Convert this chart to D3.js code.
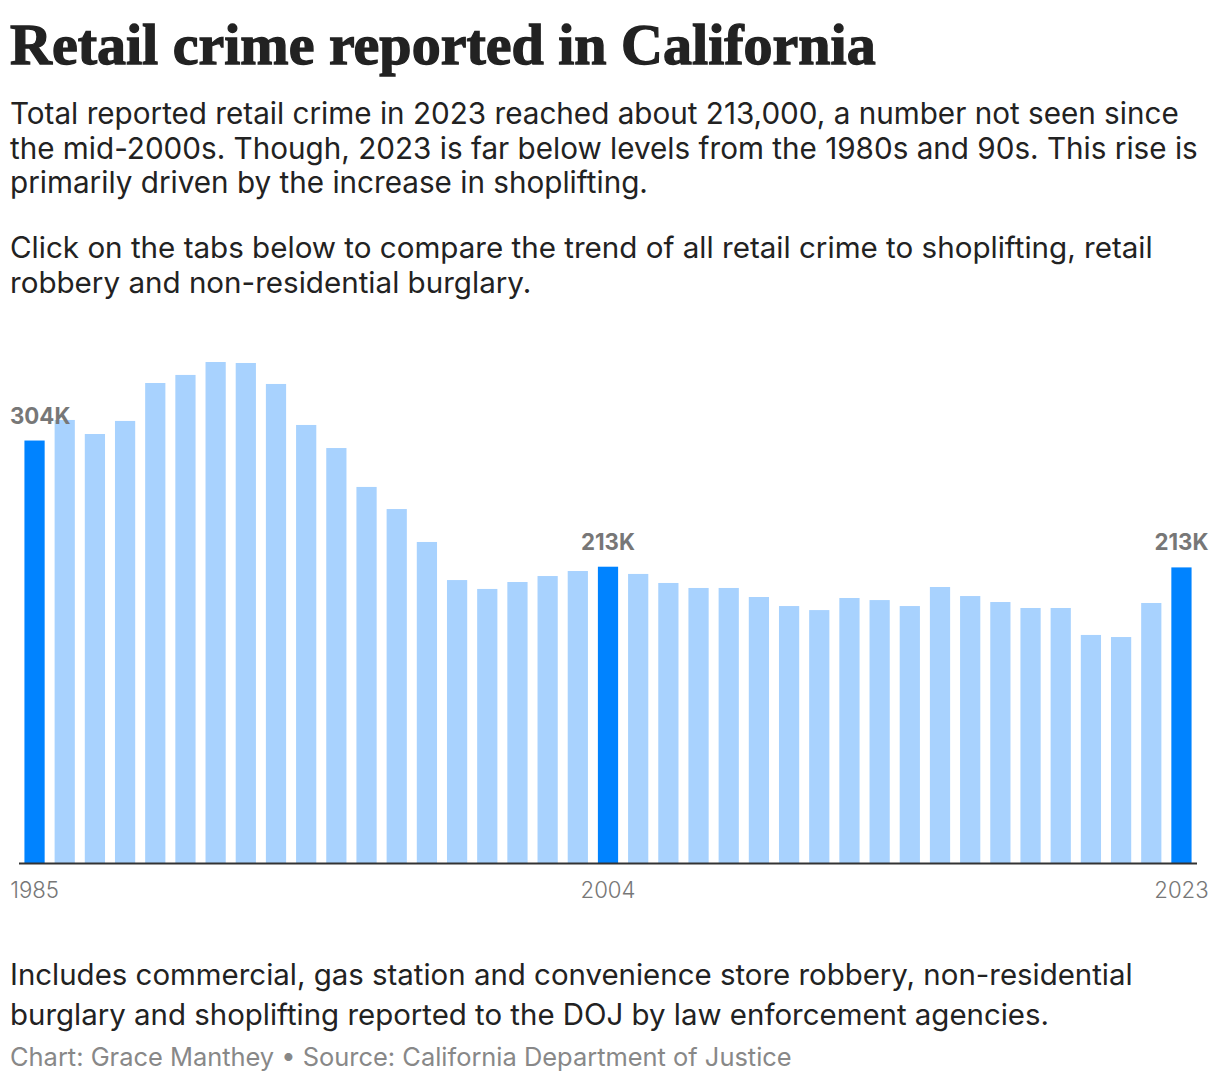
<!DOCTYPE html>
<html>
<head>
<meta charset="utf-8">
<script src="https://cdn.jsdelivr.net/npm/d3@7"></script>
<style>
  html, body { margin: 0; padding: 0; background: #fff; }
  svg { display: block; }
</style>
</head>
<body>
<svg id="chart" width="1220" height="1088"></svg>
<script>
// ---- data ----
const years = [1985,1986,1987,1988,1989,1990,1991,1992,1993,1994,1995,1996,1997,1998,1999,
  2000,2001,2002,2003,2004,2005,2006,2007,2008,2009,2010,2011,2012,2013,2014,2015,2016,
  2017,2018,2019,2020,2021,2022,2023];
const totalCrimeK = [304,318.8,308.7,318.1,345.4,351.2,360.5,359.8,344.7,315.2,298.6,270.6,254.7,231,203.6,
  197.2,202.2,206.5,210.1,213.2,208,201.5,197.9,197.9,191.4,184.9,182,190.7,189.2,184.9,198.6,192.1,
  187.8,183.5,183.5,164.1,162.6,187.1,212.7];
const highlightYears = [1985, 2004, 2023];
const tickYears = [1985, 2004, 2023];

const titleText = "Retail crime reported in California";
const introLines = [
  "Total reported retail crime in 2023 reached about 213,000, a number not seen since",
  "the mid-2000s. Though, 2023 is far below levels from the 1980s and 90s. This rise is",
  "primarily driven by the increase in shoplifting."
];
const introLines2 = [
  "Click on the tabs below to compare the trend of all retail crime to shoplifting, retail",
  "robbery and non-residential burglary."
];
const noteLines = [
  "Includes commercial, gas station and convenience store robbery, non-residential",
  "burglary and shoplifting reported to the DOJ by law enforcement agencies."
];
const sourceText = "Chart: Grace Manthey \u2022 Source: California Department of Justice";

// ---- layout ----
const svg = d3.select("#chart");
const SANS = "Inter, 'Open Sans', sans-serif";

function fitBlock(lines, x, baselines, targetWidth, family, weight, color, startSize) {
  const sel = svg.append("g").selectAll("text").data(lines).join("text")
    .attr("x", x).attr("y", (d, i) => baselines[i])
    .style("font-family", family).style("font-weight", weight)
    .style("font-size", startSize + "px").attr("fill", color).text(d => d);
  const w = sel.nodes()[0].getComputedTextLength();
  const size = startSize * targetWidth / w;
  sel.style("font-size", size + "px");
  return sel;
}

// title
const title = fitBlock([titleText], 10, [64], 866, "'Liberation Serif', 'Times New Roman', serif", 700, "#222", 52);
title.attr("stroke", "#222").attr("stroke-width", 1.3);

fitBlock(introLines, 10, [124, 159, 193], 1169, SANS, 400, "#222", 26);
fitBlock(introLines2, 10, [258, 293], 1143, SANS, 400, "#222", 26);
fitBlock(noteLines, 10, [985, 1025], 1123, SANS, 400, "#222", 26);
fitBlock([sourceText], 10, [1066], 782, SANS, 400, "#888", 24);

// ---- chart ----
const baseY = 863;
const x = d3.scaleBand().domain(years).range([19, 1197]).paddingInner(0.33).paddingOuter(0.18);
const y = d3.scaleLinear().domain([0, 370]).range([baseY, baseY - 370 * 1.3897]);

const data = years.map((yr, i) => ({ year: yr, value: totalCrimeK[i] }));

svg.append("g").selectAll("rect").data(data).join("rect")
  .attr("x", d => x(d.year))
  .attr("width", x.bandwidth())
  .attr("y", d => y(d.value))
  .attr("height", d => y(0) - y(d.value))
  .attr("fill", d => highlightYears.includes(d.year) ? "#0083ff" : "#a8d2fe");

// baseline
svg.append("line")
  .attr("x1", 19).attr("x2", 1197)
  .attr("y1", baseY + 0.5).attr("y2", baseY + 0.5)
  .attr("stroke", "#333").attr("stroke-width", 2);

// value labels
const labels = svg.append("g").selectAll("text")
  .data(data.filter(d => highlightYears.includes(d.year))).join("text")
  .attr("y", d => y(d.value) - 17)
  .style("font-family", SANS).style("font-weight", 700).style("font-size", "20px")
  .attr("fill", "#777")
  .text(d => Math.round(d.value) + "K");
{
  const w0 = labels.nodes()[1].getComputedTextLength();
  labels.style("font-size", (20 * 54 / w0) + "px");
}
labels.each(function(d) {
  const w = this.getComputedTextLength();
  let cx = x(d.year) + x.bandwidth() / 2 - w / 2;
  cx = Math.max(10, Math.min(1209 - w, cx));
  d3.select(this).attr("x", cx);
});

// x axis ticks
const axis = d3.axisBottom(x).tickValues(tickYears).tickSize(0).tickPadding(0).tickFormat(d3.format("d"));
const ax = svg.append("g").attr("transform", `translate(0, ${baseY})`).call(axis);
ax.select(".domain").remove();
const tickTexts = ax.selectAll("text")
  .attr("dy", null).attr("y", 35)
  .style("font-family", SANS).style("font-size", "22px").style("font-weight", 300)
  .attr("fill", "#777");
{
  const w0 = tickTexts.nodes()[1].getComputedTextLength();
  tickTexts.style("font-size", (22 * 55 / w0) + "px");
}
</script>
</body>
</html>
